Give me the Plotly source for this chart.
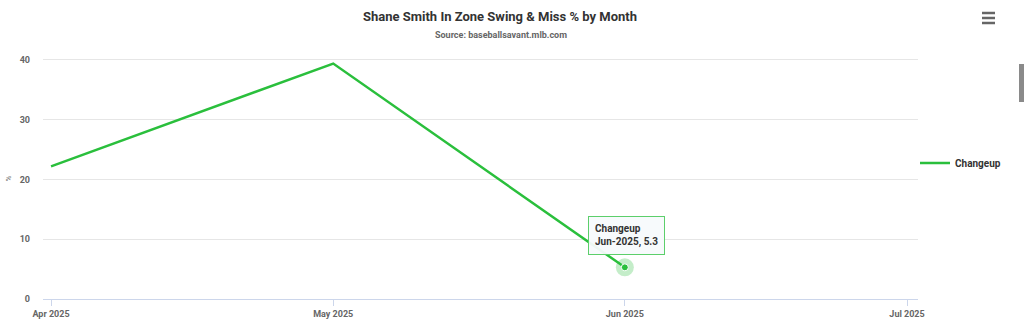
import plotly.graph_objects as go

months = ["2025-04-01", "2025-05-01", "2025-06-01"]
values = [22.2, 39.4, 5.3]
series_name = "Changeup"
tick_vals = ["2025-04-01", "2025-05-01", "2025-06-01", "2025-07-01"]
tick_text = ["Apr 2025", "May 2025", "Jun 2025", "Jul 2025"]
y_ticks = [0, 10, 20, 30, 40]
hover_idx = 2
hover_label = "Jun-2025"

GREEN = "#2abf3c"
FONT = "Roboto, Arial, sans-serif"

W, H = 1024, 324
ML, MR, MT, MB = 43, 106, 58, 25
PW, PH = W - ML - MR, H - MT - MB

def px_x(px):
    return (px - ML) / PW

def px_y(py):
    return 1 - (py - MT) / PH

fig = go.Figure()
fig.add_trace(go.Scatter(
    x=months, y=values, mode="lines", name=f"<b>{series_name}</b>",
    line=dict(color=GREEN, width=2.5),
))
fig.add_trace(go.Scatter(
    x=[months[hover_idx]], y=[values[hover_idx]], mode="markers",
    marker=dict(size=18, color="rgba(42,191,60,0.28)"), showlegend=False, hoverinfo="skip"))
fig.add_trace(go.Scatter(
    x=[months[hover_idx]], y=[values[hover_idx]], mode="markers",
    marker=dict(size=7, color=GREEN, line=dict(color="white", width=1)), showlegend=False, hoverinfo="skip"))

fig.add_annotation(
    x=months[hover_idx], y=values[hover_idx], xref="x", yref="y",
    text=f"<b>{series_name}<br>{hover_label}, {values[hover_idx]}</b>",
    showarrow=False, yanchor="bottom", yshift=12, xshift=2, align="left",
    bgcolor="rgba(247,250,252,0.95)", bordercolor="#5ccf6b", borderwidth=1, borderpad=6,
    font=dict(family=FONT, size=10, color="#333333"),
)

fig.update_layout(
    width=W, height=H,
    margin=dict(l=ML, r=MR, t=MT, b=MB, autoexpand=False),
    paper_bgcolor="white", plot_bgcolor="white",
    title=dict(text="<b>Shane Smith In Zone Swing & Miss % by Month</b>",
               xref="paper", x=px_x(500), xanchor="center",
               yref="container", y=1 - 16 / H, yanchor="middle",
               font=dict(family=FONT, size=13, color="#333333")),
    showlegend=True,
    legend=dict(x=px_x(915), xanchor="left", y=px_y(163), yanchor="middle",
                font=dict(family=FONT, size=10, color="#333333"),
                bgcolor="rgba(0,0,0,0)"),
    xaxis=dict(type="date", range=["2025-03-31 03:30", "2025-07-02 04:00"],
               tickvals=tick_vals, ticktext=[f"<b>{t}</b>" for t in tick_text],
               tickfont=dict(family=FONT, size=9, color="#666666"),
               showgrid=False, showline=True, linecolor="#ccd6eb", linewidth=1,
               ticks="outside", ticklen=6, tickcolor="#ccd6eb", zeroline=False,
               automargin=False),
    yaxis=dict(range=[0, 40.33], tickvals=y_ticks,
               ticktext=[f"<b>{v}</b>" for v in y_ticks],
               tickfont=dict(family=FONT, size=9, color="#666666"),
               showgrid=True, gridcolor="#e6e6e6", zeroline=False, ticks="",
               ticklabelstandoff=12, automargin=False,
               title=dict(text="%", font=dict(family=FONT, size=8, color="#666666"), standoff=6)),
)

fig.add_annotation(text="<b>Source: baseballsavant.mlb.com</b>", xref="paper", yref="paper",
                   x=px_x(501), y=px_y(35), xanchor="center", yanchor="middle", showarrow=False,
                   font=dict(family=FONT, size=9, color="#666666"))

# hamburger menu icon
for dy in (13, 18, 23):
    fig.add_shape(type="line", xref="paper", yref="paper",
                  x0=px_x(982), x1=px_x(995), y0=px_y(dy), y1=px_y(dy),
                  line=dict(color="#666666", width=2.5))
# page scrollbar fragment
fig.add_shape(type="rect", xref="paper", yref="paper",
              x0=px_x(1019), x1=px_x(1024), y0=px_y(64), y1=px_y(102),
              fillcolor="#8a8a8a", line=dict(width=0), layer="above")

fig.write_html("out.html")
